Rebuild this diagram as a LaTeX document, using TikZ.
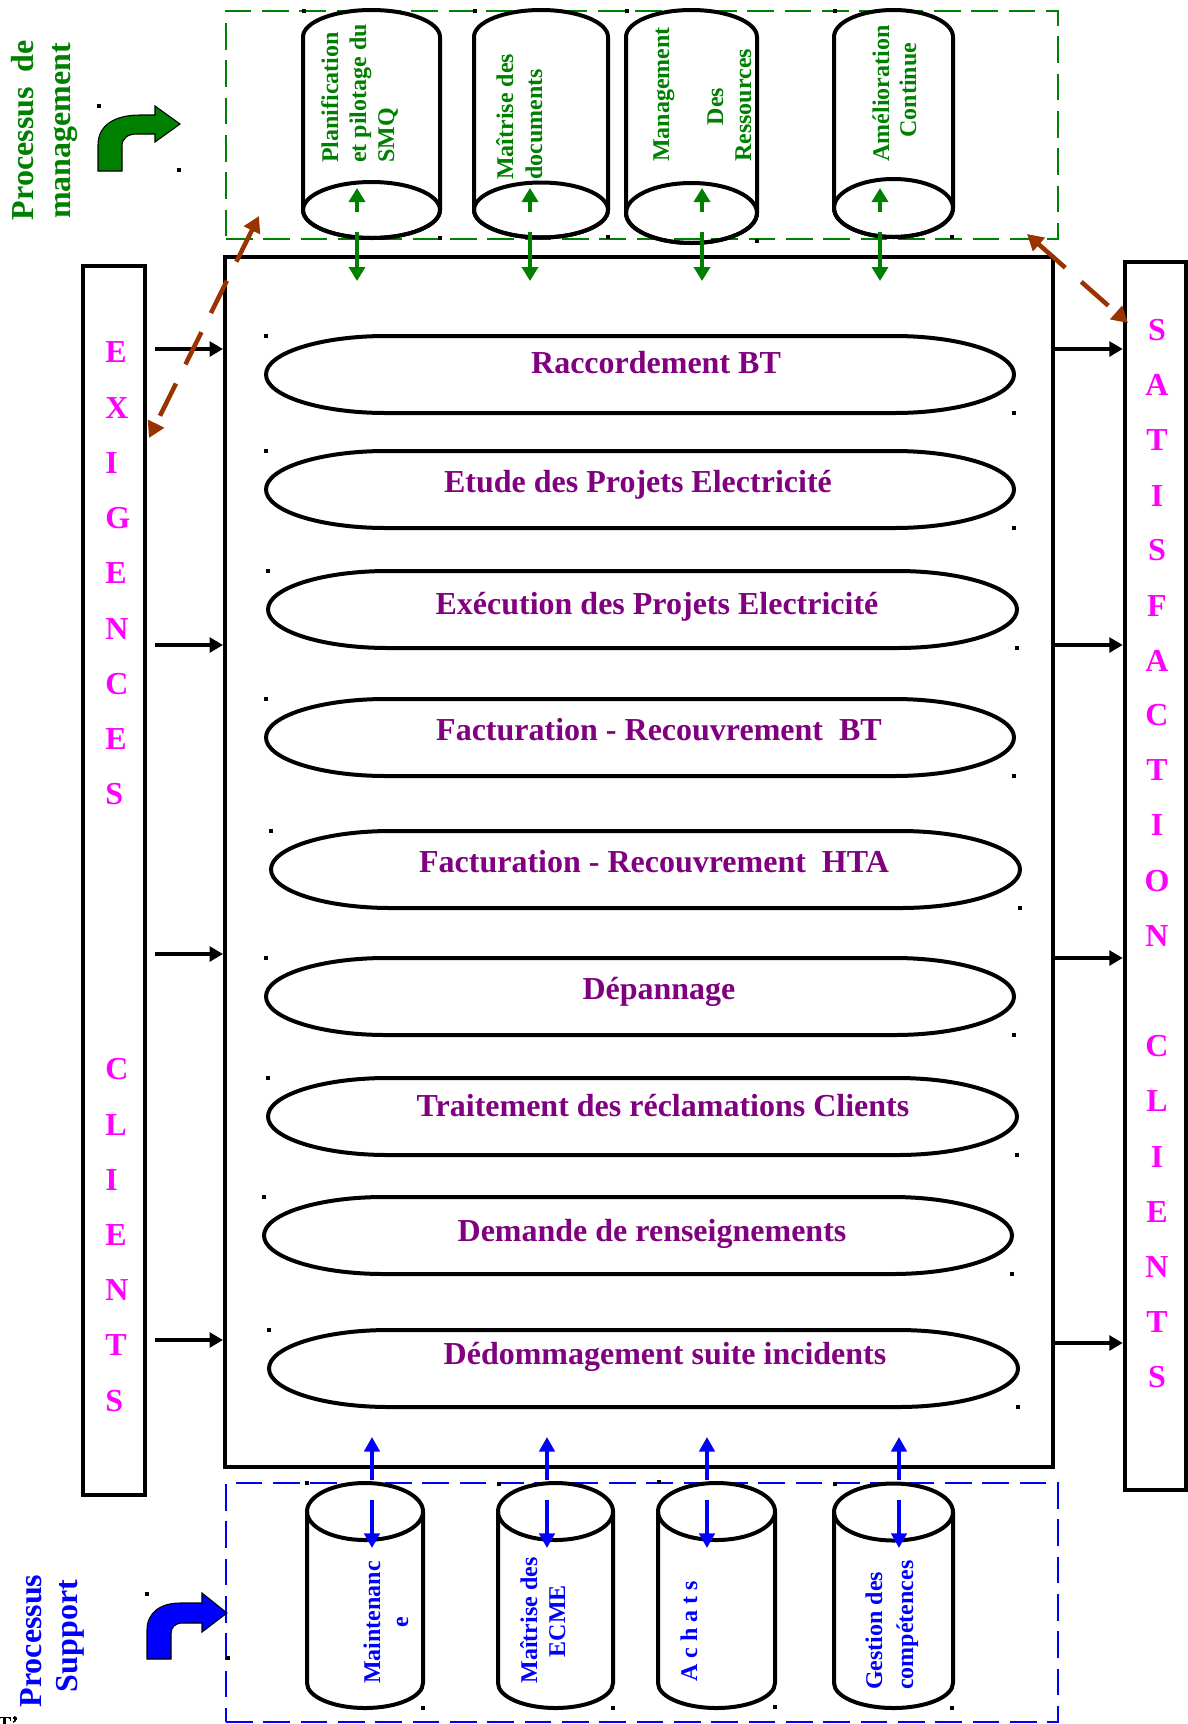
\documentclass[tikz,border=0pt]{standalone}
\usepackage{fontspec}
\setmainfont{Liberation Serif}
\usetikzlibrary{arrows.meta,fit}
\newdimen\pxu \pxu=0.75pt
\definecolor{mgreen}{RGB}{0,128,0}
\definecolor{mblue}{RGB}{0,0,255}
\definecolor{mmag}{RGB}{255,0,255}
\definecolor{mpurp}{RGB}{128,0,128}
\definecolor{mbrown}{RGB}{153,51,0}
\newcommand\bigfont{\fontsize{24}{28}\selectfont\bfseries}
\newcommand\smallfont{\fontsize{18}{21}\selectfont\bfseries}
\newcommand\dotat[2]{\fill (#1,#2) ++(-1.6,-1.6) rectangle ++(3.2,3.2);}
% process shape: x1, x2, top, bottom (height 77)
\newcommand\procpath[4]{%
  \draw[procline] ({#1+120},#3) -- ({#2-120},#3)
    arc[start angle=90,end angle=-90,x radius=90pt,y radius=28.875pt]
    -- ({#1+120},#4)
    arc[start angle=270,end angle=90,x radius=90pt,y radius=28.875pt] -- cycle;
  \dotat{#1}{#3}\dotat{#2}{#4}}
% top cylinder: x1, x2, top, bottom ellipse centre, bottom ellipse ry
\newcommand\cyltop[5]{%
  \draw[cylline] (#1,{#3+27})
    arc[start angle=180,end angle=0,x radius={(#2-#1)*0.375pt},y radius=20.25pt]
    -- (#2,#4)
    arc[start angle=0,end angle=-180,x radius={(#2-#1)*0.375pt},y radius={#5*0.75pt}]
    -- cycle;
  \draw[cylline] ({(#1+#2)/2},#4) ellipse[x radius={(#2-#1)*0.375pt},y radius={#5*0.75pt}];}
% bottom cylinder: x1, x2, top ellipse centre, top ellipse ry, bottom
\newcommand\cylbot[5]{%
  \draw[cylline] (#1,#3) -- (#1,{#5-25})
    arc[start angle=180,end angle=360,x radius={(#2-#1)*0.375pt},y radius=18.75pt]
    -- (#2,#3);
  \draw[cylline] ({(#1+#2)/2},#3) ellipse[x radius={(#2-#1)*0.375pt},y radius={#4*0.75pt}];}

\begin{document}
\begin{tikzpicture}[x=0.75pt,y=-0.75pt,
  frame/.style={draw, line width=3pt, inner sep=0pt},
  barbox/.style={draw, line width=3.4pt, inner sep=0pt},
  procline/.style={line width=3pt},
  cylline/.style={line width=3pt},
  ptext/.style={text=mpurp, font=\bigfont, anchor=base, inner sep=0pt},
  lletter/.style={text=mmag, font=\bigfont, anchor=base west, inner sep=0pt},
  rletter/.style={text=mmag, font=\bigfont, anchor=base, inner sep=0pt},
  sidelab/.style={font=\bigfont, rotate=90, anchor=base, inner sep=0pt},
  cyltext/.style={font=\smallfont, rotate=90, inner sep=0pt},
  blk/.style={-{Triangle[length=10pt,width=11pt]}, line width=3.2pt},
  garrow/.style={-{Triangle[length=10.5pt,width=12pt]}, line width=3.2pt, mgreen},
  barrow/.style={-{Triangle[length=11pt,width=11.5pt]}, line width=3.2pt, mblue},
  brn/.style={{Triangle[length=12pt,width=13pt]}-{Triangle[length=12pt,width=13pt]},
     line width=3.4pt, mbrown, dash pattern=on 27pt off 16pt},
  gbox/.style={draw=mgreen, line width=1.5pt, dash pattern=on 20pt off 8pt, inner sep=0pt},
  bbox/.style={draw=mblue, line width=1.5pt, dash pattern=on 20pt off 8pt, inner sep=0pt}
]
\useasboundingbox (0,0) rectangle (1188,1724);
\fill[white] (0,0) rectangle (1188,1724);

% ---------- frames ----------
\node[gbox, fit={(226,11) (1058,239)}] (mgmt) {};
\node[bbox, fit={(226,1483) (1058,1722)}] (supp) {};
\node[frame, fit={(225,257) (1053,1467)}] (main) {};
\node[barbox, fit={(83,266) (145,1495)}] (lbar) {};
\node[barbox, fit={(1125,262) (1186,1490)}] (rbar) {};

% ---------- bar letters ----------
\foreach \ch/\yy [count=\i] in {E/352,X/408,I/463,G/518,E/573,N/629,C/684,E/739,S/794,
   C/1069,L/1125,I/1180,E/1235,N/1290,T/1345,S/1401}
  \node[lletter] (ll\i) at (105,\yy+10.5) {\ch};
\foreach \ch/\yy [count=\i] in {S/330,A/385,T/440,I/496,S/550,F/606,A/661,C/715,T/770,
   I/825,O/881,N/936,C/1046,L/1101,I/1157,E/1212,N/1267,T/1322,S/1377}
  \node[rletter] (rl\i) at (1157,\yy+10.5) {\ch};

% ---------- processes ----------
\procpath{266}{1014}{336}{413}
\procpath{266}{1014}{451}{528}
\procpath{268}{1017}{571}{648}
\procpath{266}{1014}{699}{776}
\procpath{271}{1020}{831}{908}
\procpath{266}{1014}{958}{1035}
\procpath{268}{1017}{1078}{1155}
\procpath{264}{1012}{1197}{1274}
\procpath{269}{1018}{1330}{1407}
\node[ptext] (p1) at (656,373) {Raccordement BT};
\node[ptext] (p2) at (638,492) {Etude des Projets Electricité};
\node[ptext] (p3) at (657,614) {Exécution des Projets Electricité};
\node[ptext] (p4) at (659,740) {Facturation - Recouvrement\ \ BT};
\node[ptext] (p5) at (654,872) {Facturation - Recouvrement\ \ HTA};
\node[ptext] (p6) at (659,999) {Dépannage};
\node[ptext] (p7) at (663,1116) {Traitement des réclamations Clients};
\node[ptext] (p8) at (652,1241) {Demande de renseignements};
\node[ptext] (p9) at (665,1364) {Dédommagement suite incidents};

% ---------- bar arrows ----------
\foreach \yy [count=\i] in {349,645,954,1340}{
  \coordinate (lr\i) at (0,\yy);
  \draw[blk] ([xshift=6pt]lbar.east |- lr\i) -- (main.west |- lr\i);}
\foreach \yy [count=\i] in {349,645,958,1343}{
  \coordinate (rr\i) at (0,\yy);
  \draw[blk] (main.east |- rr\i) -- (rbar.west |- rr\i);}

% ---------- management cylinders ----------
\cyltop{303}{440}{10}{210}{28}
\cyltop{474}{608}{10}{210}{27.5}
\cyltop{626}{757}{10}{213}{30}
\cyltop{834}{953}{10}{208}{29}
\begin{scope}[text=mgreen]
\node[cyltext, anchor=base west] (m1a) at (338,163) {Planification};
\node[cyltext, anchor=base west] (m1b) at (366,163) {et pilotage du};
\node[cyltext, anchor=base west] (m1c) at (394,163) {SMQ};
\node[cyltext, anchor=base west] (m2a) at (513,180) {Maîtrise des};
\node[cyltext, anchor=base west] (m2b) at (542,180) {documents};
\node[cyltext, anchor=base west] (m3a) at (669,162) {Management};
\node[cyltext, anchor=base] (m3b) at (723,106.5) {Des};
\node[cyltext, anchor=base west] (m3c) at (751,162) {Ressources};
\node[cyltext, anchor=base] (m4a) at (889,93.5) {Amélioration};
\node[cyltext, anchor=base] (m4b) at (916,90) {Continue};
\end{scope}
\foreach \n/\xx in {A/357,B/530,C/702,D/880}{
  \coordinate (gu\n) at (\xx,212); \coordinate (gh\n) at (\xx,188);
  \coordinate (gd\n) at (\xx,232); \coordinate (gt\n) at (\xx,281);
  \draw[garrow] (gu\n) -- (gh\n);
  \draw[garrow] (gd\n) -- (gt\n);}

% ---------- support cylinders ----------
\cylbot{307}{423}{1511.5}{28.5}{1708}
\cylbot{498}{613}{1511.5}{28.5}{1708}
\cylbot{658}{775}{1511.5}{28.5}{1708}
\cylbot{834}{953}{1512}{28.5}{1708}
\begin{scope}[text=mblue]
\node[cyltext, anchor=base] (s1a) at (380,1622.5) {Maintenanc};
\node[cyltext, anchor=base] (s1b) at (408,1622) {e};
\node[cyltext, anchor=base] (s2a) at (537,1620.5) {Maîtrise des};
\node[cyltext, anchor=base] (s2b) at (565,1621) {ECME};
\node[cyltext, anchor=base] (s3a) at (697,1631) {A c h a t s};
\node[cyltext, anchor=base west] (s4a) at (882,1690) {Gestion des};
\node[cyltext, anchor=base west] (s4b) at (913,1690) {compétences};
\end{scope}
\foreach \n/\xx in {A/372,B/547,C/707,D/899}{
  \coordinate (bu\n) at (\xx,1480); \coordinate (bh\n) at (\xx,1437);
  \coordinate (bd\n) at (\xx,1500); \coordinate (bt\n) at (\xx,1548);
  \draw[barrow] (bu\n) -- (bh\n);
  \draw[barrow] (bd\n) -- (bt\n);}

% ---------- brown dashed links ----------
\coordinate (bl1) at (259,216); \coordinate (bl2) at (149,438);
\draw[brn] (bl1) -- (bl2);
\coordinate (br1) at (1027,234); \coordinate (br2) at (1128,323);
\draw[brn] (br1) -- (br2);

% ---------- side labels and bent arrows ----------
\node[sidelab, text=mgreen] (pm1) at (33,130) {\makebox[180\pxu][s]{Processus de}};
\node[sidelab, text=mgreen] (pm2) at (70,131) {management};
\node[sidelab, text=mblue] (ps1) at (41,1641) {Processus};
\node[sidelab, text=mblue] (ps2) at (77,1636) {Support};

\filldraw[fill=mgreen, draw=black, line width=0.8pt]
  (98,171) -- (98,145) .. controls (98,125) and (115,115) .. (140,115)
  -- (155,115) -- (155,106) -- (180,124) -- (155,142) -- (155,134) -- (137,134)
  .. controls (128,134) and (122,138) .. (122,146) -- (122,171) -- cycle;
\filldraw[fill=mblue, draw=black, line width=0.8pt]
  (147,1659) -- (147,1630) .. controls (147,1613) and (160,1603) .. (180,1603)
  -- (202,1603) -- (202,1593) -- (227,1613) -- (202,1632) -- (202,1623) -- (183,1623)
  .. controls (175,1623) and (171,1627) .. (171,1634) -- (171,1659) -- cycle;

% ---------- small stray marks ----------
\foreach \a/\b in {304/11,475/11,627/11,835/11,440/238,608/237,757/241,952/237,
  307/1483,499/1484,659/1482,835/1484,423/1708,613/1708,775/1707,952/1708,
  99/106,179/170,147/1594,228/1658}
  \dotat{\a}{\b}
\node[anchor=north west, inner sep=0pt, font=\fontsize{16}{16}\selectfont] (tfrag) at (-2,1717) {T’};
\end{tikzpicture}
\end{document}
